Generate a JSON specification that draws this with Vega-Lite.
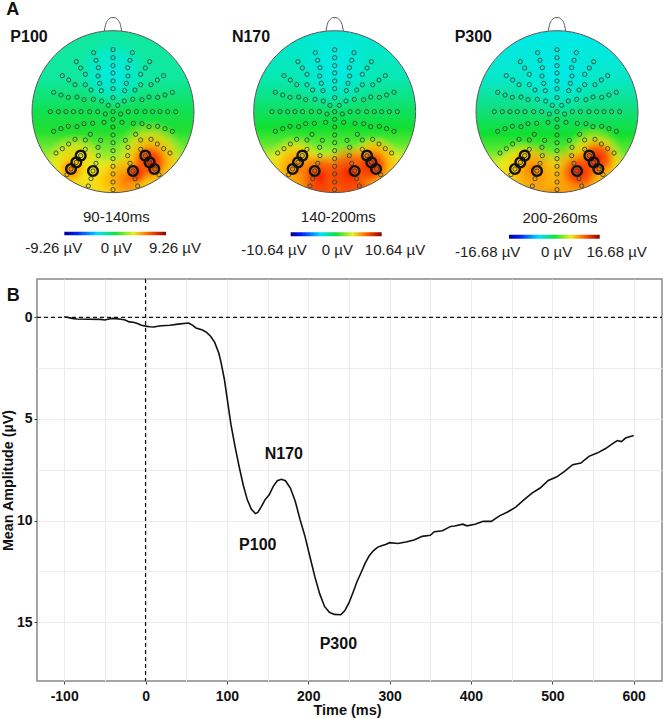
{"$schema":"https://vega.github.io/schema/vega-lite/v6.json","padding":{"left":0,"top":0,"right":0,"bottom":0},"background":"white","spacing":279,"bounds":"flush",
"params":[
{"name":"yel","value":{"gradient":"radial","stops":[{"offset":0,"color":"rgba(255,200,0,0.95)"},{"offset":0.6,"color":"rgba(250,225,20,0.65)"},{"offset":1,"color":"rgba(230,235,40,0)"}]}},
{"name":"org","value":{"gradient":"radial","stops":[{"offset":0,"color":"rgba(255,110,0,0.95)"},{"offset":0.6,"color":"rgba(255,160,0,0.55)"},{"offset":1,"color":"rgba(255,200,0,0)"}]}},
{"name":"red","value":{"gradient":"radial","stops":[{"offset":0,"color":"rgba(245,30,0,1)"},{"offset":0.55,"color":"rgba(250,60,0,0.65)"},{"offset":1,"color":"rgba(255,120,0,0)"}]}},
{"name":"cya","value":{"gradient":"radial","stops":[{"offset":0,"color":"rgba(0,235,235,0.9)"},{"offset":0.6,"color":"rgba(0,235,225,0.55)"},{"offset":1,"color":"rgba(0,235,190,0)"}]}},
{"name":"bar","value":{"gradient":"linear","x1":0,"y1":0,"x2":1,"y2":0,"stops":[{"offset":0,"color":"#00008f"},{"offset":0.12,"color":"#0020ff"},{"offset":0.33,"color":"#00e0ff"},{"offset":0.5,"color":"#10e040"},{"offset":0.68,"color":"#e8f020"},{"offset":0.85,"color":"#ff5000"},{"offset":1,"color":"#900000"}]}},
{"name":"bg1","value":{"gradient":"linear","x1":0,"y1":0,"x2":0,"y2":1,"stops":[{"offset":0,"color":"#10e8a0"},{"offset":0.3,"color":"#10e8a0"},{"offset":0.5,"color":"#10e050"},{"offset":0.62,"color":"#20e030"},{"offset":0.72,"color":"#70e830"},{"offset":0.82,"color":"#c8ec28"},{"offset":0.92,"color":"#f0e020"},{"offset":1,"color":"#f8c020"}]}},
{"name":"bg2","value":{"gradient":"linear","x1":0,"y1":0,"x2":0,"y2":1,"stops":[{"offset":0,"color":"#00e8d8"},{"offset":0.3,"color":"#08e8b0"},{"offset":0.5,"color":"#10e060"},{"offset":0.6,"color":"#10e030"},{"offset":0.7,"color":"#60e830"},{"offset":0.78,"color":"#d0ec28"},{"offset":0.86,"color":"#f8c018"},{"offset":1,"color":"#f85008"}]}},
{"name":"bg3","value":{"gradient":"linear","x1":0,"y1":0,"x2":0,"y2":1,"stops":[{"offset":0,"color":"#00e8f0"},{"offset":0.3,"color":"#08e8c8"},{"offset":0.5,"color":"#10e078"},{"offset":0.64,"color":"#10e030"},{"offset":0.74,"color":"#60e830"},{"offset":0.82,"color":"#d8ec28"},{"offset":0.9,"color":"#f8c018"},{"offset":1,"color":"#f89010"}]}}
],
"config":{"view":{"stroke":null},"font":"Liberation Sans"},
"datasets":{
"center":[{"x":0,"y":0}],
"nose":[{"x":-26,"y":242},{"x":-22,"y":262},{"x":-14,"y":276},{"x":-5,"y":282},{"x":5,"y":282},{"x":14,"y":276},{"x":22,"y":262},{"x":26,"y":242}],
"electrodes":[
{"x":0,"y":186},{"x":0,"y":162},{"x":0,"y":138},{"x":0,"y":116},{"x":0,"y":92},{"x":0,"y":69},{"x":0,"y":42},{"x":0,"y":0},{"x":0,"y":-23},{"x":0,"y":-46},{"x":0,"y":-70},{"x":0,"y":-93},{"x":0,"y":-117},{"x":0,"y":-141},{"x":0,"y":-164},{"x":0,"y":-187},{"x":0,"y":-211},{"x":0,"y":-234},
{"x":-58,"y":177},{"x":-51,"y":154},{"x":-44,"y":132},{"x":-45,"y":107},{"x":-40,"y":85},{"x":-35,"y":63},{"x":-34,"y":32},{"x":-110,"y":150},{"x":-97,"y":131},{"x":-83,"y":112},{"x":-83,"y":81},{"x":-66,"y":65},{"x":-59,"y":37},{"x":-152,"y":108},{"x":-133,"y":95},{"x":-114,"y":81},{"x":-178,"y":58},{"x":-156,"y":50},{"x":-134,"y":43},{"x":-108,"y":44},{"x":-87,"y":36},{"x":-14,"y":19},{"x":-23,"y":-7},
{"x":-188,"y":0},{"x":-164,"y":0},{"x":-141,"y":0},{"x":-119,"y":0},{"x":-96,"y":0},{"x":-70,"y":0},{"x":-46,"y":0},
{"x":-178,"y":-59},{"x":-156,"y":-51},{"x":-134,"y":-44},{"x":-108,"y":-45},{"x":-87,"y":-36},{"x":-61,"y":-35},{"x":-27,"y":-32},{"x":-68,"y":-68},{"x":-83,"y":-85},{"x":-114,"y":-83},{"x":-133,"y":-97},{"x":-152,"y":-111},{"x":-171,"y":-124},{"x":-37,"y":-86},{"x":-45,"y":-107},{"x":-83,"y":-113},{"x":-44,"y":-132},{"x":-51,"y":-155},{"x":-60,"y":-178},{"x":-66,"y":-201},{"x":-74,"y":-223},{"x":-138,"y":-189},{"x":-126,"y":-172},{"x":-110,"y":-152},{"x":-97,"y":-132},
{"x":58,"y":177},{"x":51,"y":154},{"x":44,"y":132},{"x":45,"y":107},{"x":40,"y":85},{"x":35,"y":63},{"x":34,"y":32},{"x":110,"y":150},{"x":97,"y":131},{"x":83,"y":112},{"x":83,"y":81},{"x":66,"y":65},{"x":59,"y":37},{"x":152,"y":108},{"x":133,"y":95},{"x":114,"y":81},{"x":178,"y":58},{"x":156,"y":50},{"x":134,"y":43},{"x":108,"y":44},{"x":87,"y":36},{"x":14,"y":19},{"x":23,"y":-7},
{"x":188,"y":0},{"x":164,"y":0},{"x":141,"y":0},{"x":119,"y":0},{"x":96,"y":0},{"x":70,"y":0},{"x":46,"y":0},
{"x":178,"y":-59},{"x":156,"y":-51},{"x":134,"y":-44},{"x":108,"y":-45},{"x":87,"y":-36},{"x":61,"y":-35},{"x":27,"y":-32},{"x":68,"y":-68},{"x":83,"y":-85},{"x":114,"y":-83},{"x":133,"y":-97},{"x":152,"y":-111},{"x":171,"y":-124},{"x":37,"y":-86},{"x":45,"y":-107},{"x":83,"y":-113},{"x":44,"y":-132},{"x":51,"y":-155},{"x":60,"y":-178},{"x":66,"y":-201},{"x":74,"y":-223},{"x":138,"y":-189},{"x":126,"y":-172},{"x":110,"y":-152},{"x":97,"y":-132}],
"thick":[{"x":-126,"y":-172},{"x":-110,"y":-152},{"x":-97,"y":-132},{"x":-60,"y":-178},{"x":60,"y":-178},{"x":97,"y":-132},{"x":110,"y":-152},{"x":124,"y":-172}],
"blobs":[
{"h":1,"k":"c","x":0,"y":115,"s":5500},
{"h":1,"k":"y","x":-115,"y":-155,"s":3600},{"h":1,"k":"y","x":-20,"y":-205,"s":2200},{"h":1,"k":"y","x":110,"y":-130,"s":5000},
{"h":1,"k":"o","x":-125,"y":-175,"s":800},{"h":1,"k":"o","x":40,"y":-205,"s":3000},{"h":1,"k":"o","x":115,"y":-150,"s":3600},
{"h":1,"k":"r","x":110,"y":-150,"s":1300},{"h":1,"k":"r","x":70,"y":-185,"s":600},
{"h":2,"k":"c","x":0,"y":130,"s":8000},
{"h":2,"k":"y","x":-120,"y":-150,"s":3000},{"h":2,"k":"y","x":120,"y":-150,"s":3000},
{"h":2,"k":"o","x":-110,"y":-170,"s":2500},{"h":2,"k":"o","x":120,"y":-150,"s":2500},
{"h":2,"k":"r","x":-40,"y":-195,"s":2500},{"h":2,"k":"r","x":45,"y":-185,"s":3400},{"h":2,"k":"r","x":110,"y":-165,"s":1300},
{"h":3,"k":"c","x":0,"y":120,"s":9000},
{"h":3,"k":"y","x":-110,"y":-160,"s":2500},{"h":3,"k":"y","x":110,"y":-130,"s":3600},
{"h":3,"k":"o","x":-70,"y":-175,"s":3000},{"h":3,"k":"o","x":50,"y":-185,"s":3600},{"h":3,"k":"o","x":120,"y":-150,"s":2800},
{"h":3,"k":"r","x":70,"y":-180,"s":1500},{"h":3,"k":"r","x":120,"y":-140,"s":1300}],
"bars":[{"h":1,"x":-146,"x2":159,"y":-360,"y2":-371},{"h":2,"x":-132,"x2":141,"y":-362,"y2":-374},{"h":3,"x":-144,"x2":128,"y":-369,"y2":-381}],
"labels":[
{"h":1,"x":10,"y":-315,"t":"90-140ms"},{"h":1,"x":-178,"y":-410,"t":"-9.26 µV"},{"h":1,"x":10,"y":-410,"t":"0 µV"},{"h":1,"x":186,"y":-410,"t":"9.26 µV"},
{"h":2,"x":11,"y":-316,"t":"140-200ms"},{"h":2,"x":-182,"y":-415,"t":"-10.64 µV"},{"h":2,"x":8,"y":-415,"t":"0 µV"},{"h":2,"x":181,"y":-415,"t":"10.64 µV"},
{"h":3,"x":9,"y":-319,"t":"200-260ms"},{"h":3,"x":-208,"y":-421,"t":"-16.68 µV"},{"h":3,"x":-1,"y":-421,"t":"0 µV"},{"h":3,"x":179,"y":-421,"t":"16.68 µV"}],
"names":[{"h":1,"x":-252,"y":223,"t":"P100"},{"h":2,"x":-251,"y":223,"t":"N170"},{"h":3,"x":-251,"y":223,"t":"P300"}],
"curve":[{"t":-100,"v":-0.03},{"t":-90,"v":0.05},{"t":-85,"v":0.08},{"t":-70,"v":0.09},{"t":-55,"v":0.1},{"t":-50,"v":0.13},{"t":-45,"v":0.08},{"t":-40,"v":0.05},{"t":-30,"v":0.09},{"t":-25,"v":0.13},{"t":-20,"v":0.22},{"t":-15,"v":0.24},{"t":-10,"v":0.3},{"t":-5,"v":0.39},{"t":0,"v":0.43},{"t":5,"v":0.46},{"t":10,"v":0.47},{"t":15,"v":0.44},{"t":20,"v":0.41},{"t":30,"v":0.39},{"t":40,"v":0.33},{"t":50,"v":0.29},{"t":53,"v":0.28},{"t":58,"v":0.39},{"t":62,"v":0.52},{"t":70,"v":0.62},{"t":75,"v":0.74},{"t":80,"v":0.93},{"t":85,"v":1.23},{"t":90,"v":1.75},{"t":93,"v":2.25},{"t":97,"v":3.07},{"t":100,"v":3.9},{"t":105,"v":5.28},{"t":110,"v":6.35},{"t":115,"v":7.33},{"t":120,"v":8.24},{"t":125,"v":8.97},{"t":130,"v":9.44},{"t":135,"v":9.66},{"t":138,"v":9.6},{"t":142,"v":9.34},{"t":147,"v":8.97},{"t":152,"v":8.73},{"t":157,"v":8.32},{"t":162,"v":8.04},{"t":167,"v":7.97},{"t":172,"v":8.04},{"t":178,"v":8.4},{"t":184,"v":9.05},{"t":190,"v":9.96},{"t":196,"v":10.78},{"t":202,"v":11.77},{"t":208,"v":12.75},{"t":214,"v":13.6},{"t":220,"v":14.23},{"t":226,"v":14.52},{"t":232,"v":14.62},{"t":240,"v":14.64},{"t":245,"v":14.43},{"t":250,"v":14.06},{"t":255,"v":13.54},{"t":260,"v":13.0},{"t":265,"v":12.56},{"t":270,"v":12.1},{"t":275,"v":11.73},{"t":280,"v":11.49},{"t":285,"v":11.32},{"t":290,"v":11.24},{"t":295,"v":11.18},{"t":300,"v":11.09},{"t":310,"v":11.13},{"t":320,"v":11.06},{"t":330,"v":10.96},{"t":340,"v":10.78},{"t":350,"v":10.73},{"t":355,"v":10.55},{"t":365,"v":10.5},{"t":375,"v":10.29},{"t":380,"v":10.27},{"t":390,"v":10.18},{"t":395,"v":10.26},{"t":405,"v":10.18},{"t":415,"v":10.04},{"t":425,"v":10.04},{"t":435,"v":9.77},{"t":445,"v":9.58},{"t":455,"v":9.34},{"t":465,"v":8.98},{"t":475,"v":8.65},{"t":485,"v":8.4},{"t":495,"v":8.03},{"t":505,"v":7.86},{"t":515,"v":7.58},{"t":525,"v":7.25},{"t":535,"v":7.17},{"t":545,"v":6.84},{"t":555,"v":6.68},{"t":565,"v":6.47},{"t":575,"v":6.19},{"t":580,"v":6.06},{"t":585,"v":6.11},{"t":590,"v":5.94},{"t":600,"v":5.81}],
"peaks":[{"t":170,"v":6.71,"l":"N170"},{"t":138,"v":11.19,"l":"P100"},{"t":237,"v":16.1,"l":"P300"}]
},
"vconcat":[
{"hconcat":[
{"width":183,"height":279,"encoding":{"x":{"field":"x","type":"quantitative","scale":{"domain":[-228,321],"nice":false,"zero":false},"axis":null},"y":{"field":"y","type":"quantitative","scale":{"domain":[-502,335],"nice":false,"zero":false},"axis":null}},
"layer":[
{"data":{"name":"center"},"mark":{"type":"point","filled":true,"size":26244,"opacity":1,"fill":{"expr":"bg1"}}},
{"data":{"name":"blobs"},"transform":[{"filter":"datum.h==1&&datum.k=='c'"}],"mark":{"type":"point","filled":true,"opacity":1,"fill":{"expr":"cya"}},"encoding":{"size":{"field":"s","type":"quantitative","scale":null}}},
{"data":{"name":"blobs"},"transform":[{"filter":"datum.h==1&&datum.k=='y'"}],"mark":{"type":"point","filled":true,"opacity":1,"fill":{"expr":"yel"}},"encoding":{"size":{"field":"s","type":"quantitative","scale":null}}},
{"data":{"name":"blobs"},"transform":[{"filter":"datum.h==1&&datum.k=='o'"}],"mark":{"type":"point","filled":true,"opacity":1,"fill":{"expr":"org"}},"encoding":{"size":{"field":"s","type":"quantitative","scale":null}}},
{"data":{"name":"blobs"},"transform":[{"filter":"datum.h==1&&datum.k=='r'"}],"mark":{"type":"point","filled":true,"opacity":1,"fill":{"expr":"red"}},"encoding":{"size":{"field":"s","type":"quantitative","scale":null}}},
{"data":{"name":"center"},"mark":{"type":"point","filled":false,"size":28561,"opacity":1,"stroke":"white","strokeWidth":7}},
{"data":{"name":"center"},"mark":{"type":"point","filled":false,"size":33489,"opacity":1,"stroke":"white","strokeWidth":7}},
{"data":{"name":"center"},"mark":{"type":"point","filled":false,"size":26244,"opacity":1,"stroke":"#555","strokeWidth":1}},
{"data":{"name":"nose"},"mark":{"type":"line","stroke":"#555","strokeWidth":1,"interpolate":"monotone"}},
{"data":{"name":"electrodes"},"mark":{"type":"point","filled":false,"size":18,"opacity":1,"stroke":"#2a4a30","strokeWidth":0.9}},
{"data":{"name":"thick"},"mark":{"type":"point","filled":false,"size":95,"opacity":1,"stroke":"#111","strokeWidth":2.4}},
{"data":{"name":"bars"},"transform":[{"filter":"datum.h==1"}],"mark":{"type":"rect","fill":{"expr":"bar"}},"encoding":{"x2":{"field":"x2"},"y2":{"field":"y2"}}},
{"data":{"name":"labels"},"transform":[{"filter":"datum.h==1"}],"mark":{"type":"text","fontSize":15,"color":"#222"},"encoding":{"text":{"field":"t"}}},
{"data":{"name":"names"},"transform":[{"filter":"datum.h==1"}],"mark":{"type":"text","fontSize":16,"fontWeight":"bold","color":"#111"},"encoding":{"text":{"field":"t"}}},
{"data":{"values":[{"x":-301,"y":306,"t":"A"}]},"mark":{"type":"text","fontSize":18,"fontWeight":"bold","color":"#111"},"encoding":{"text":{"field":"t"}}}
]},
{"width":220,"height":279,"encoding":{"x":{"field":"x","type":"quantitative","scale":{"domain":[-344,316],"nice":false,"zero":false},"axis":null},"y":{"field":"y","type":"quantitative","scale":{"domain":[-502,335],"nice":false,"zero":false},"axis":null}},
"layer":[
{"data":{"name":"center"},"mark":{"type":"point","filled":true,"size":26244,"opacity":1,"fill":{"expr":"bg2"}}},
{"data":{"name":"blobs"},"transform":[{"filter":"datum.h==2&&datum.k=='c'"}],"mark":{"type":"point","filled":true,"opacity":1,"fill":{"expr":"cya"}},"encoding":{"size":{"field":"s","type":"quantitative","scale":null}}},
{"data":{"name":"blobs"},"transform":[{"filter":"datum.h==2&&datum.k=='y'"}],"mark":{"type":"point","filled":true,"opacity":1,"fill":{"expr":"yel"}},"encoding":{"size":{"field":"s","type":"quantitative","scale":null}}},
{"data":{"name":"blobs"},"transform":[{"filter":"datum.h==2&&datum.k=='o'"}],"mark":{"type":"point","filled":true,"opacity":1,"fill":{"expr":"org"}},"encoding":{"size":{"field":"s","type":"quantitative","scale":null}}},
{"data":{"name":"blobs"},"transform":[{"filter":"datum.h==2&&datum.k=='r'"}],"mark":{"type":"point","filled":true,"opacity":1,"fill":{"expr":"red"}},"encoding":{"size":{"field":"s","type":"quantitative","scale":null}}},
{"data":{"name":"center"},"mark":{"type":"point","filled":false,"size":28561,"opacity":1,"stroke":"white","strokeWidth":7}},
{"data":{"name":"center"},"mark":{"type":"point","filled":false,"size":33489,"opacity":1,"stroke":"white","strokeWidth":7}},
{"data":{"name":"center"},"mark":{"type":"point","filled":false,"size":26244,"opacity":1,"stroke":"#555","strokeWidth":1}},
{"data":{"name":"nose"},"mark":{"type":"line","stroke":"#555","strokeWidth":1,"interpolate":"monotone"}},
{"data":{"name":"electrodes"},"mark":{"type":"point","filled":false,"size":18,"opacity":1,"stroke":"#2a4a30","strokeWidth":0.9}},
{"data":{"name":"thick"},"mark":{"type":"point","filled":false,"size":95,"opacity":1,"stroke":"#111","strokeWidth":2.4}},
{"data":{"name":"bars"},"transform":[{"filter":"datum.h==2"}],"mark":{"type":"rect","fill":{"expr":"bar"}},"encoding":{"x2":{"field":"x2"},"y2":{"field":"y2"}}},
{"data":{"name":"labels"},"transform":[{"filter":"datum.h==2"}],"mark":{"type":"text","fontSize":15,"color":"#222"},"encoding":{"text":{"field":"t"}}},
{"data":{"name":"names"},"transform":[{"filter":"datum.h==2"}],"mark":{"type":"text","fontSize":16,"fontWeight":"bold","color":"#111"},"encoding":{"text":{"field":"t"}}}
]},
{"width":222,"height":279,"encoding":{"x":{"field":"x","type":"quantitative","scale":{"domain":[-351,315],"nice":false,"zero":false},"axis":null},"y":{"field":"y","type":"quantitative","scale":{"domain":[-502,335],"nice":false,"zero":false},"axis":null}},
"layer":[
{"data":{"name":"center"},"mark":{"type":"point","filled":true,"size":26244,"opacity":1,"fill":{"expr":"bg3"}}},
{"data":{"name":"blobs"},"transform":[{"filter":"datum.h==3&&datum.k=='c'"}],"mark":{"type":"point","filled":true,"opacity":1,"fill":{"expr":"cya"}},"encoding":{"size":{"field":"s","type":"quantitative","scale":null}}},
{"data":{"name":"blobs"},"transform":[{"filter":"datum.h==3&&datum.k=='y'"}],"mark":{"type":"point","filled":true,"opacity":1,"fill":{"expr":"yel"}},"encoding":{"size":{"field":"s","type":"quantitative","scale":null}}},
{"data":{"name":"blobs"},"transform":[{"filter":"datum.h==3&&datum.k=='o'"}],"mark":{"type":"point","filled":true,"opacity":1,"fill":{"expr":"org"}},"encoding":{"size":{"field":"s","type":"quantitative","scale":null}}},
{"data":{"name":"blobs"},"transform":[{"filter":"datum.h==3&&datum.k=='r'"}],"mark":{"type":"point","filled":true,"opacity":1,"fill":{"expr":"red"}},"encoding":{"size":{"field":"s","type":"quantitative","scale":null}}},
{"data":{"name":"center"},"mark":{"type":"point","filled":false,"size":28561,"opacity":1,"stroke":"white","strokeWidth":7}},
{"data":{"name":"center"},"mark":{"type":"point","filled":false,"size":33489,"opacity":1,"stroke":"white","strokeWidth":7}},
{"data":{"name":"center"},"mark":{"type":"point","filled":false,"size":26244,"opacity":1,"stroke":"#555","strokeWidth":1}},
{"data":{"name":"nose"},"mark":{"type":"line","stroke":"#555","strokeWidth":1,"interpolate":"monotone"}},
{"data":{"name":"electrodes"},"mark":{"type":"point","filled":false,"size":18,"opacity":1,"stroke":"#2a4a30","strokeWidth":0.9}},
{"data":{"name":"thick"},"mark":{"type":"point","filled":false,"size":95,"opacity":1,"stroke":"#111","strokeWidth":2.4}},
{"data":{"name":"bars"},"transform":[{"filter":"datum.h==3"}],"mark":{"type":"rect","fill":{"expr":"bar"}},"encoding":{"x2":{"field":"x2"},"y2":{"field":"y2"}}},
{"data":{"name":"labels"},"transform":[{"filter":"datum.h==3"}],"mark":{"type":"text","fontSize":15,"color":"#222"},"encoding":{"text":{"field":"t"}}},
{"data":{"name":"names"},"transform":[{"filter":"datum.h==3"}],"mark":{"type":"text","fontSize":16,"fontWeight":"bold","color":"#111"},"encoding":{"text":{"field":"t"}}}
]}
],"spacing":0,"bounds":"flush"},
{"width":625,"height":402,"view":{"stroke":"#888","strokeWidth":1.5},
"encoding":{"x":{"field":"t","type":"quantitative","scale":{"domain":[-133.4,634.8],"nice":false,"zero":false},"axis":{"title":"Time (ms)","titleX":310,"values":[-100,-50,0,50,100,150,200,250,300,350,400,450,500,550,600],"labelExpr":"datum.value%100==0?datum.value:''","tickOpacity":{"expr":"datum.value%100==0?1:0"},"tickSize":3,"tickColor":"#444","grid":true,"gridColor":"#ececec","domain":false,"labelFontSize":14,"labelFontWeight":"bold","labelColor":"#111","labelPadding":5,"titleFontSize":14.5,"titleFontWeight":"bold","titleColor":"#111","titlePadding":0,"labelOverlap":false,"labelFlush":false}},
"y":{"field":"v","type":"quantitative","scale":{"domain":[-1.89,17.9],"reverse":true,"nice":false,"zero":false},"axis":{"title":"Mean Amplitude (µV)","values":[0,2.5,5,7.5,10,12.5,15],"labelExpr":"datum.value%5==0?datum.value:''","tickOpacity":{"expr":"datum.value%5==0?1:0"},"tickSize":3,"tickColor":"#444","grid":true,"gridColor":"#ececec","domain":false,"labelFontSize":14,"labelFontWeight":"bold","labelColor":"#111","labelPadding":2,"titleFontSize":14.3,"titleFontWeight":"bold","titleColor":"#111","titlePadding":1,"labelOverlap":false}}},
"layer":[
{"data":{"values":[{"v":0}]},"mark":{"type":"rule","color":"#111","strokeWidth":1.2,"strokeDash":[4,3]},"encoding":{"x":{"value":0},"x2":{"value":625}}},
{"data":{"values":[{"t":0}]},"mark":{"type":"rule","color":"#111","strokeWidth":1.2,"strokeDash":[4,3]},"encoding":{"y":{"value":0},"y2":{"value":402}}},
{"data":{"name":"curve"},"mark":{"type":"line","color":"#111","strokeWidth":1.6}},
{"data":{"name":"peaks"},"mark":{"type":"text","fontSize":16,"fontWeight":"bold","color":"#111"},"encoding":{"text":{"field":"l"}}},
{"data":{"values":[{"t":-162.5,"v":-1.07,"l":"B"}]},"mark":{"type":"text","fontSize":18,"fontWeight":"bold","color":"#111"},"encoding":{"text":{"field":"l"}}}
]}
]}
